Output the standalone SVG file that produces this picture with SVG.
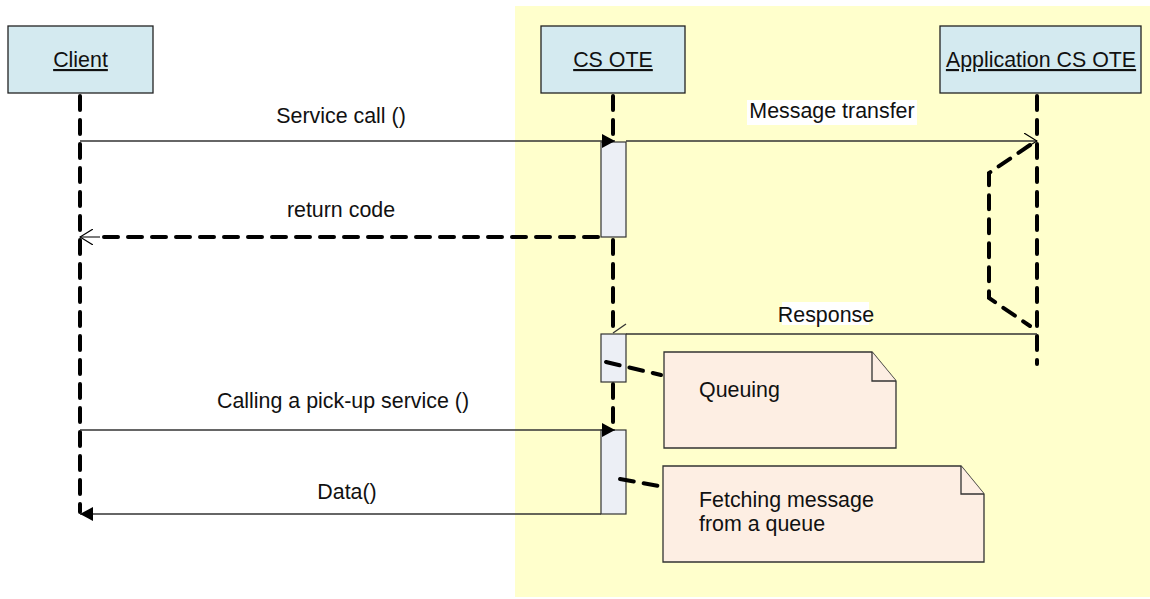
<svg xmlns="http://www.w3.org/2000/svg" width="1150" height="599" viewBox="0 0 1150 599">
<defs>
<style>
.node{fill:#d4eaf0;stroke:#222;stroke-width:1.3}
.lbl{font-family:"Liberation Sans",Arial,sans-serif;font-size:21.4px;fill:#111}
.ul{text-decoration:underline}
.life{fill:none;stroke:#000;stroke-width:4;stroke-dasharray:14 10;stroke-linecap:round}
.bar{fill:#eceff5;stroke:#333;stroke-width:1.2}
.msg{fill:none;stroke:#333;stroke-width:1.3}
.dmsg{fill:none;stroke:#000;stroke-width:4;stroke-dasharray:14 10;stroke-linecap:round}
.note{fill:#fdeee3;stroke:#333;stroke-width:1.3}
.bgw{fill:#fff}
</style>
<marker id="fill" viewBox="0 0 14 14" refX="13" refY="7" markerWidth="14" markerHeight="14" markerUnits="userSpaceOnUse" orient="auto">
<path d="M0,0 L13,7 L0,14 Z" fill="#000"/>
</marker>
<marker id="open" viewBox="0 0 14 16" refX="13" refY="8" markerWidth="14" markerHeight="16" markerUnits="userSpaceOnUse" orient="auto">
<path d="M0,0 L13,8 L0,16" fill="none" stroke="#000" stroke-width="1.2"/>
</marker>
</defs>
<rect x="0" y="0" width="1150" height="599" fill="#fff"/>
<rect x="515" y="6" width="635" height="591" fill="#ffffcc"/>

<g id="lifelines">
<line class="life" x1="80" y1="96" x2="80" y2="512"/>
<line class="life" x1="613" y1="96" x2="613" y2="512"/>
<line class="life" x1="1037" y1="96" x2="1037" y2="364"/>
</g>

<g id="client"><rect class="node" x="8" y="26" width="145" height="67"/><text class="lbl ul" x="80.5" y="67" text-anchor="middle">Client</text></g>
<g id="csote"><rect class="node" x="541" y="26" width="144" height="67"/><text class="lbl ul" x="613" y="67" text-anchor="middle">CS OTE</text></g>
<g id="appcsote"><rect class="node" x="940" y="26" width="201" height="67"/><text class="lbl ul" x="1041" y="67" text-anchor="middle">Application CS OTE</text></g>

<g id="activations">
<rect class="bar" x="601" y="142" width="25" height="95"/>
<rect class="bar" x="601" y="334" width="25" height="48"/>
<rect class="bar" x="601" y="430" width="25" height="84"/>
</g>

<g id="connectors">
<line class="msg" x1="80" y1="141" x2="615" y2="141" marker-end="url(#fill)"/>
<line class="msg" x1="626" y1="141" x2="1037" y2="141" marker-end="url(#open)"/>
<line class="dmsg" x1="598" y1="237" x2="94" y2="237"/>
<line class="msg" x1="100" y1="237" x2="80" y2="237" marker-end="url(#open)"/>
<polyline class="dmsg" points="1030,145 989,173 989,298 1030,326"/>
<line class="msg" x1="1037" y1="334" x2="626" y2="334"/>
<line class="msg" x1="626" y1="324" x2="613" y2="333" stroke="#000" stroke-width="1.2"/>
<line class="msg" x1="80" y1="430" x2="615" y2="430" marker-end="url(#fill)"/>
<line class="msg" x1="601" y1="514" x2="80" y2="514" marker-end="url(#fill)"/>
<line class="dmsg" x1="606" y1="362" x2="661" y2="375"/>
<line class="dmsg" x1="620" y1="479" x2="659" y2="486"/>
</g>

<g id="labels">
<text class="lbl" x="341" y="123" text-anchor="middle">Service call ()</text>
<rect class="bgw" x="747" y="100" width="170" height="25"/>
<text class="lbl" x="832" y="118" text-anchor="middle">Message transfer</text>
<text class="lbl" x="341" y="217" text-anchor="middle">return code</text>
<rect class="bgw" x="782" y="302" width="87" height="23"/>
<text class="lbl" x="826" y="322" text-anchor="middle">Response</text>
<text class="lbl" x="343" y="408" text-anchor="middle">Calling a pick-up service ()</text>
<text class="lbl" x="347" y="499" text-anchor="middle">Data()</text>
</g>

<g id="note-queuing">
<path class="note" d="M664,352 L872,352 L896,381 L896,448 L664,448 Z"/>
<path class="note" d="M872,352 L872,381 L896,381" fill="none"/>
<text class="lbl" x="699" y="397">Queuing</text>
</g>
<g id="note-fetching">
<path class="note" d="M663,466 L961,466 L984,494 L984,562 L663,562 Z"/>
<path class="note" d="M961,466 L961,494 L984,494" fill="none"/>
<text class="lbl" x="699" y="507">Fetching message</text>
<text class="lbl" x="699" y="531">from a queue</text>
</g>
</svg>
